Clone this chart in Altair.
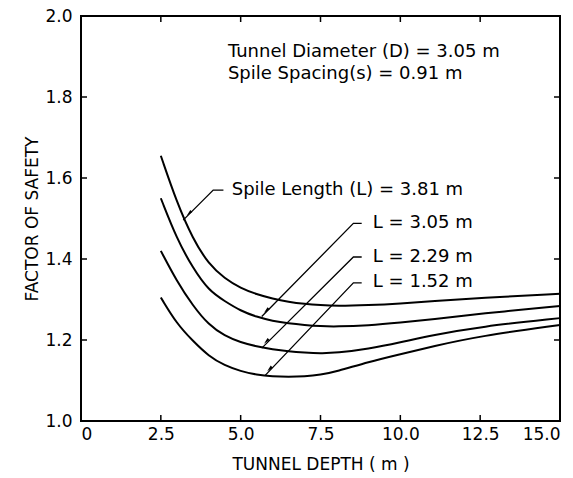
import altair as alt
import pandas as pd

# ---- data ----
depth = [2.5, 3, 3.5, 4, 4.5, 5, 5.5, 6, 6.5, 7, 7.5, 8, 9, 10, 11, 12.5, 15]
fs_381 = [1.655, 1.54, 1.45, 1.387, 1.352, 1.328, 1.313, 1.302, 1.294, 1.289, 1.286, 1.284, 1.286, 1.290, 1.296, 1.304, 1.314]
fs_305 = [1.55, 1.45, 1.378, 1.322, 1.296, 1.272, 1.257, 1.247, 1.241, 1.237, 1.234, 1.233, 1.236, 1.243, 1.251, 1.265, 1.284]
fs_229 = [1.42, 1.345, 1.285, 1.237, 1.21, 1.194, 1.184, 1.177, 1.172, 1.169, 1.167, 1.168, 1.178, 1.194, 1.212, 1.233, 1.254]
fs_152 = [1.305, 1.24, 1.198, 1.16, 1.137, 1.123, 1.114, 1.11, 1.109, 1.11, 1.114, 1.122, 1.146, 1.165, 1.184, 1.21, 1.237]
series_names = ["L=3.81", "L=3.05", "L=2.29", "L=1.52"]

x_ticks = [2.5, 5.0, 7.5, 10.0, 12.5]
y_ticks = [1.2, 1.4, 1.6, 1.8]
x_labels = [0, 2.5, 5.0, 7.5, 10.0, 12.5, 15.0]
y_labels = [1.0, 1.2, 1.4, 1.6, 1.8, 2.0]

# annotation texts (data coordinates)
label_text = ["Spile Length (L) = 3.81 m", "L  = 3.05 m", "L  = 2.29 m", "L  = 1.52 m",
              "Tunnel Diameter (D) = 3.05 m", "Spile Spacing(s) = 0.91 m"]
label_x = [4.72, 9.14, 9.14, 9.14, 4.60, 4.60]
label_y = [1.570, 1.488, 1.405, 1.344, 1.912, 1.857]

# leader lines: start (near label), knee, end (on curve)
leader_x = [[4.46, 4.14, 3.20], [8.79, 8.53, 5.66], [8.79, 8.53, 5.66], [8.79, 8.53, 5.76]]
leader_y = [[1.570, 1.570, 1.496], [1.488, 1.488, 1.258], [1.405, 1.405, 1.180], [1.341, 1.341, 1.112]]
arrow_x = [3.40, 5.82, 5.82, 5.92]
arrow_y = [1.514, 1.274, 1.198, 1.130]

FONT = "DejaVu Sans"
W, H = 479, 405

rows = []
for name, vals in zip(series_names, [fs_381, fs_305, fs_229, fs_152]):
    for d, v in zip(depth, vals):
        rows.append({"series": name, "depth": d, "fs": v})
curves = pd.DataFrame(rows)

lrows = []
for i, (xs, ys) in enumerate(zip(leader_x, leader_y)):
    for k, (a, b) in enumerate(zip(xs, ys)):
        lrows.append({"lid": i, "k": k, "x": a, "y": b})
leaders = pd.DataFrame(lrows)

xscale = alt.Scale(domain=[0, 15], nice=False, zero=False)
yscale = alt.Scale(domain=[1.0, 2.0], nice=False, zero=False)

x_axis = alt.Axis(values=x_labels, labelExpr="datum.value == 0 ? '0' : format(datum.value, '.1f')",
                  domain=False, ticks=False, grid=False, labelFont=FONT, labelFontSize=17,
                  labelColor="black", labelPadding=5, title="TUNNEL DEPTH ( m )", titleFont=FONT,
                  titleFontSize=17, titleFontWeight="normal", titleColor="black", titlePadding=14)
y_axis = alt.Axis(values=y_labels, format=".1f", domain=False, ticks=False, grid=False,
                  labelFont=FONT, labelFontSize=17, labelColor="black", labelPadding=9,
                  title="FACTOR OF SAFETY", titleFont=FONT, titleFontSize=17,
                  titleFontWeight="normal", titleColor="black", titlePadding=3)

lines = alt.Chart(curves).mark_line(color="black", strokeWidth=2, interpolate="basis").encode(
    x=alt.X("depth:Q", scale=xscale, axis=x_axis),
    y=alt.Y("fs:Q", scale=yscale, axis=y_axis),
    detail="series:N",
)

TL = 6
xt = pd.DataFrame({"v": x_ticks})
yt = pd.DataFrame({"v": y_ticks})
tick_bottom = alt.Chart(xt).mark_rule(color="black", strokeWidth=1.5).encode(
    x=alt.X("v:Q", scale=xscale), y=alt.value(H), y2=alt.value(H - TL))
tick_top = alt.Chart(xt).mark_rule(color="black", strokeWidth=1.5).encode(
    x=alt.X("v:Q", scale=xscale), y=alt.value(0), y2=alt.value(TL))
tick_left = alt.Chart(yt).mark_rule(color="black", strokeWidth=1.5).encode(
    y=alt.Y("v:Q", scale=yscale), x=alt.value(0), x2=alt.value(TL))
tick_right = alt.Chart(yt).mark_rule(color="black", strokeWidth=1.5).encode(
    y=alt.Y("v:Q", scale=yscale), x=alt.value(W), x2=alt.value(W - TL))

lead = alt.Chart(leaders).mark_line(color="black", strokeWidth=1.3).encode(
    x=alt.X("x:Q", scale=xscale), y=alt.Y("y:Q", scale=yscale), detail="lid:N", order="k:Q")

arrows = alt.Chart(pd.DataFrame({"x": arrow_x, "y": arrow_y})).mark_point(
    shape="M0,-1.6L0.6,1L-0.6,1Z", angle=225, size=25, filled=True, color="black", opacity=1).encode(
    x=alt.X("x:Q", scale=xscale), y=alt.Y("y:Q", scale=yscale))

texts = alt.Chart(pd.DataFrame({"t": label_text, "x": label_x, "y": label_y})).mark_text(
    align="left", baseline="middle", font=FONT, fontSize=18, color="black").encode(
    x=alt.X("x:Q", scale=xscale), y=alt.Y("y:Q", scale=yscale), text="t:N")

chart = alt.layer(lines, tick_bottom, tick_top, tick_left, tick_right, lead, arrows, texts).properties(
    width=W, height=H,
    autosize=alt.AutoSizeParams(type="none"),
    padding={"left": 81, "top": 16, "right": 13, "bottom": 57},
    background="white",
).configure_view(stroke="black", strokeWidth=2)

chart.save("out.html", embed_options={"renderer": "svg", "actions": False})
